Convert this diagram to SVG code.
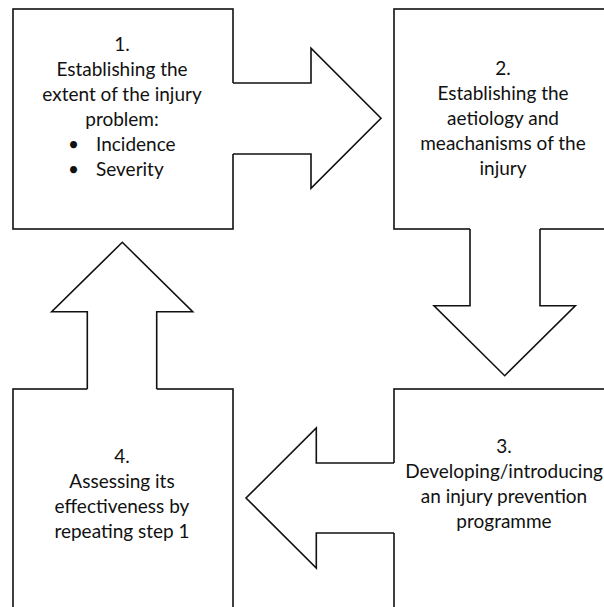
<svg xmlns="http://www.w3.org/2000/svg" width="604" height="607" viewBox="0 0 604 607">
<style>
  .box { fill: #ffffff; stroke: #111111; stroke-width: 1.6; }
  .arrow-fill { fill: #ffffff; stroke: none; }
  .arrow-line { fill: none; stroke: #111111; stroke-width: 1.6; stroke-linejoin: miter; }
  .t { font-family: Lato, "Liberation Sans", sans-serif; font-size: 19px; fill: #111111; text-anchor: middle; }
  .tl { font-family: Lato, "Liberation Sans", sans-serif; font-size: 19px; fill: #111111; }
</style>
<rect width="604" height="607" fill="#ffffff"/>

<g id="node1">
  <rect class="box" x="13" y="9" width="220" height="220"/>
  <text class="t" x="122" y="51">1.</text>
  <text class="t" x="122" y="76">Establishing the</text>
  <text class="t" x="122" y="101">extent of the injury</text>
  <text class="t" x="122" y="126">problem:</text>
  <text class="tl" x="68" y="151">•</text>
  <text class="tl" x="96" y="151">Incidence</text>
  <text class="tl" x="68" y="176">•</text>
  <text class="tl" x="96" y="176">Severity</text>
</g>

<g id="node2">
  <rect class="box" x="394" y="9" width="220" height="220"/>
  <text class="t" x="503" y="75">2.</text>
  <text class="t" x="503" y="100">Establishing the</text>
  <text class="t" x="503" y="125">aetiology and</text>
  <text class="t" x="503" y="150">meachanisms of the</text>
  <text class="t" x="503" y="175">injury</text>
</g>

<g id="node3">
  <rect class="box" x="394" y="389" width="220" height="220"/>
  <text class="t" x="504" y="453">3.</text>
  <text class="t" x="504" y="478">Developing/introducing</text>
  <text class="t" x="504" y="503">an injury prevention</text>
  <text class="t" x="504" y="528">programme</text>
</g>

<g id="node4">
  <rect class="box" x="13" y="389" width="220" height="220"/>
  <text class="t" x="122" y="463">4.</text>
  <text class="t" x="122" y="488">Assessing its</text>
  <text class="t" x="122" y="513">effectiveness by</text>
  <text class="t" x="122" y="538">repeating step 1</text>
</g>

<g id="connectors">
  <g id="arrow1to2">
    <polygon class="arrow-fill" points="231,83 311,83 311,48.3 381,118.3 311,188.3 311,154 231,154"/>
    <polyline class="arrow-line" points="233,83 311,83 311,48.3 381,118.3 311,188.3 311,154 233,154"/>
  </g>
  <g id="arrow2to3">
    <polygon class="arrow-fill" points="470,227 470,305.7 434,305.7 504.7,375.7 575.3,305.7 540,305.7 540,227"/>
    <polyline class="arrow-line" points="470,229 470,305.7 434,305.7 504.7,375.7 575.3,305.7 540,305.7 540,229"/>
  </g>
  <g id="arrow3to4">
    <polygon class="arrow-fill" points="396,463 316.3,463 316.3,428 246,498 316.3,568 316.3,533 396,533"/>
    <polyline class="arrow-line" points="394,463 316.3,463 316.3,428 246,498 316.3,568 316.3,533 394,533"/>
  </g>
  <g id="arrow4to1">
    <polygon class="arrow-fill" points="87.3,391 87.3,311.7 51.7,311.7 122.3,242.3 192.7,311.7 156.7,311.7 156.7,391"/>
    <polyline class="arrow-line" points="87.3,389 87.3,311.7 51.7,311.7 122.3,242.3 192.7,311.7 156.7,311.7 156.7,389"/>
  </g>
</g>
</svg>
